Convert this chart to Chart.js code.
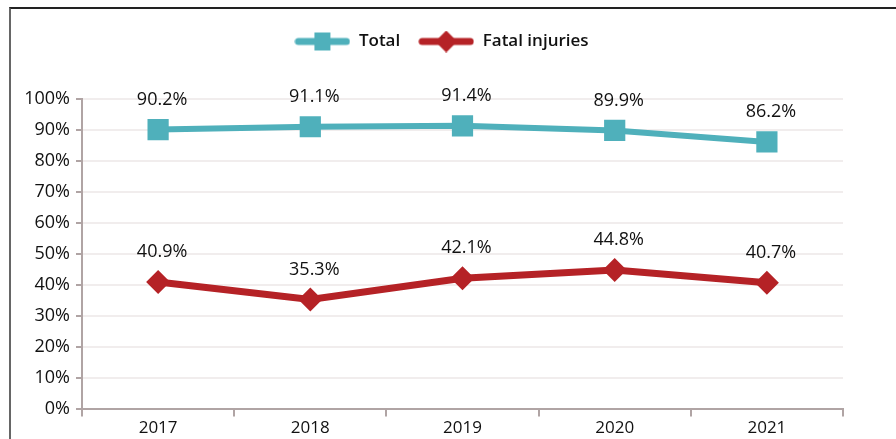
<!DOCTYPE html>
<html><head><meta charset="utf-8">
<script src="https://cdn.jsdelivr.net/npm/chart.js@4"></script>
<style>
html,body{margin:0;padding:0;background:#fff;}
#wrap{position:relative;width:896px;height:439px;overflow:hidden;}
#frame{position:absolute;left:9px;top:7px;width:900px;height:440px;border-left:2px solid #666;border-top:2px solid #222;box-shadow:0 1px 0 #bbb;}
canvas{position:absolute;left:0;top:0;}
</style></head>
<body>
<div id="wrap"><div id="frame"></div><canvas id="c" width="896" height="439"></canvas></div>
<script>
const categories = ['2017','2018','2019','2020','2021'];
const totalValues = [90.2, 91.1, 91.4, 89.9, 86.2];
const fatalValues = [40.9, 35.3, 42.1, 44.8, 40.7];
const yTicks = [0,10,20,30,40,50,60,70,80,90,100];

const TEAL = '#4fb0bb';
const RED = '#b52226';
const FONT = "'Open Sans', sans-serif";

function legendIcon(color, kind){
  const cv = document.createElement('canvas');
  cv.width = 56; cv.height = 22;
  const g = cv.getContext('2d');
  g.strokeStyle = color; g.fillStyle = color; g.lineWidth = 7; g.lineCap='round';
  g.beginPath(); g.moveTo(4,11); g.lineTo(52,11); g.stroke();
  if (kind === 'square') {
    g.fillRect(20,2,16,18);
  } else {
    g.beginPath(); g.moveTo(28,0); g.lineTo(39,11); g.lineTo(28,22); g.lineTo(17,11); g.closePath(); g.fill();
  }
  return cv;
}

const valueLabels = {
  id:'valueLabels',
  afterDatasetsDraw(chart){
    const ctx = chart.ctx;
    ctx.save();
    ctx.font = "500 18px " + FONT;
    ctx.fillStyle = '#111';
    ctx.textAlign = 'center';
    ctx.textBaseline = 'middle';
    chart.data.datasets.forEach((ds, i) => {
      chart.getDatasetMeta(i).data.forEach((pt, j) => {
        ctx.fillText(ds.data[j].toFixed(1) + '%', pt.x + 4, pt.y - 30);
      });
    });
    ctx.restore();
  }
};

new Chart(document.getElementById('c'), {
  type:'line',
  data:{
    labels: categories,
    datasets:[
      {label:'Total', data: totalValues, borderColor: TEAL, backgroundColor: TEAL, borderWidth:6,
       pointStyle:'rect', pointRadius:15, pointHoverRadius:15, pointBackgroundColor: TEAL, pointBorderWidth:0},
      {label:'Fatal injuries', data: fatalValues, borderColor: RED, backgroundColor: RED, borderWidth:7,
       pointStyle:'rectRot', pointRadius:12, pointHoverRadius:12, pointBackgroundColor: RED, pointBorderWidth:0}
    ]
  },
  options:{
    responsive:false, animation:false,
    layout:{padding:{left:0,right:13,top:15,bottom:0}},
    plugins:{
      legend:{
        display:true, position:'top',
        labels:{
          usePointStyle:true, pointStyleWidth:56, boxHeight:16,
          font:{family:FONT, size:17, weight:'600'}, color:'#111', padding:18,
          generateLabels(chart){
            return [
              {text:'Total', pointStyle: legendIcon(TEAL,'square'), fillStyle:TEAL, strokeStyle:TEAL, lineWidth:0, datasetIndex:0, fontColor:'#111'},
              {text:'Fatal injuries', pointStyle: legendIcon(RED,'diamond'), fillStyle:RED, strokeStyle:RED, lineWidth:0, datasetIndex:1, fontColor:'#111'}
            ];
          }
        }
      },
      title:{display:true, text:'', weight:100, font:{size:1}, padding:{top:19,bottom:19}},
      tooltip:{enabled:false}
    },
    scales:{
      x:{
        offset:true,
        grid:{offset:true, drawOnChartArea:false, tickLength:8, tickColor:'#b0a4a4', lineWidth:2},
        border:{color:'#b0a4a4', width:2},
        ticks:{font:{family:FONT, size:17, weight:'500'}, color:'#111', padding:1, maxRotation:0}
      },
      y:{
        min:0, max:100,
        afterFit(s){ s.width = 82; },
        afterBuildTicks(s){ s.ticks = yTicks.map(v=>({value:v})); },
        grid:{color:'#f1eded', lineWidth:2, tickLength:6, tickColor:'#b0a4a4'},
        border:{color:'#b0a4a4', width:2},
        ticks:{font:{family:FONT, size:18, weight:'500'}, color:'#111', padding:6, callback:v=>v+'%'}
      },
      yRight:{
        position:'right', min:0, max:100, display:true,
        afterFit(s){ s.width = 40; },
        grid:{drawOnChartArea:false, drawTicks:false, display:false},
        border:{display:false},
        ticks:{display:false}
      }
    }
  },
  plugins:[valueLabels]
});
</script>
</body></html>
